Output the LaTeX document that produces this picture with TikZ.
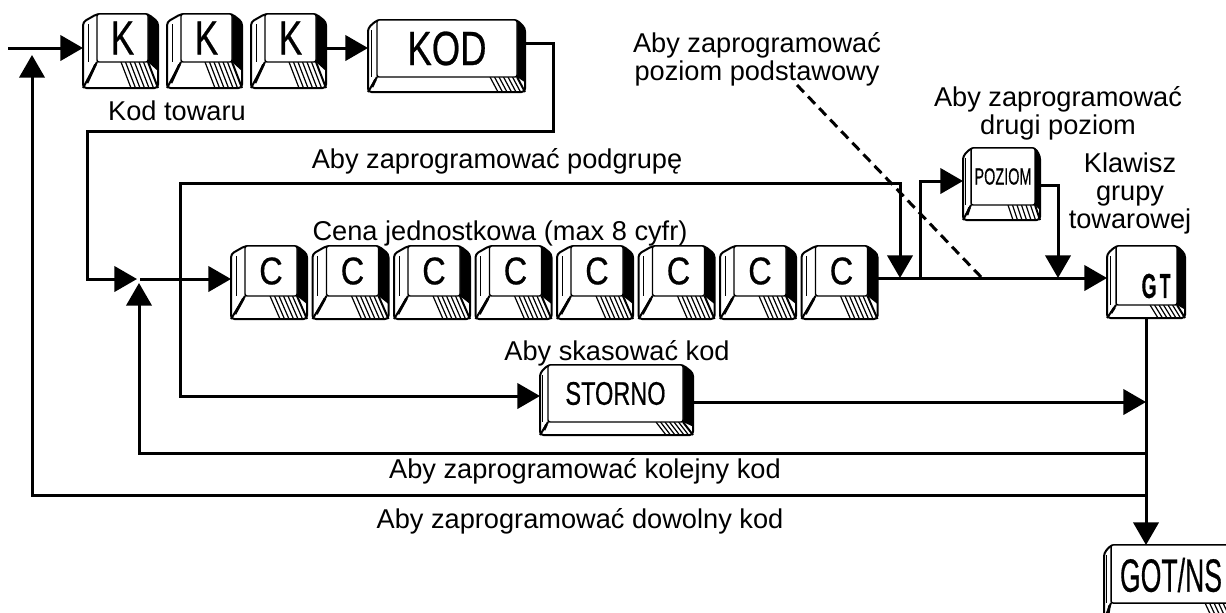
\documentclass[tikz,border=0pt]{standalone}
\usepackage{fontspec}
\setmainfont{Liberation Sans}
\newfontfamily\keyfont[FakeBold=0.6]{Liberation Sans}
\usepackage{graphicx}
\usetikzlibrary{arrows.meta,calc}

% #1 name, #2 L, #3 T, #4 R, #5 B, #6 face left, #7 face right, #8 face bottom
\newcommand\keycap[8]{%
  \pgfmathsetmacro\kcw{((#4)-(#2))*0.75}%
  \pgfmathsetmacro\kch{((#5)-(#3))*0.75}%
  \pgfmathsetmacro\kcrs{(#3)+8}%
  \pgfmathsetmacro\kcbl{(#8)+((#5)-(#8))*0.35}%
  \pgfmathsetmacro\kcin{(#2)+((#6)-(#2))*0.35}%
  \node[keybox,minimum width=\kcw pt,minimum height=\kch pt] (#1) at ({((#2)+(#4))/2},{((#3)+(#5))/2}) {};
  \draw[keyline,fill=white,rounded corners=2.5pt] (#6,#3) -- (#7,#3) -- (#4,\kcrs) -- (#4,#5) -- (#2,#5) -- (#2,\kcrs) -- cycle;
  \fill (#7,#3) -- (#4,\kcrs) -- (#4,\kcbl) -- (#7,#8) -- cycle;
  \draw[keyline] (#6,#8) -- (#2,#5) (#7,#8) -- (#4,#5);
  \foreach \i in {1,...,6}{\draw[hatch] ({(#7)-\i*4.5},#8) -- ({(#7)-\i*4.5+((#4)-(#7))},#5);}
  \draw[line width=0.6pt] (\kcin,{(#3)+10}) -- (\kcin,{(#8)});
  \draw[line width=2pt] ({(#6)-1.5},{(#8)+2.5}) -- ({(#2)+4},{(#5)-5});
  \draw[line width=1.1pt,fill=white,rounded corners=1.5pt] (#6,#3) rectangle (#7,#8);
  \coordinate (#1-f) at ({((#6)+(#7))/2},{((#3)+(#8))/2});
}
\newcommand\kl[3]{{\keyfont\fontsize{#1}{#1}\selectfont\scalebox{#2}[1]{#3}}}

\begin{document}
\begin{tikzpicture}[x=0.75pt,y=-0.75pt,
  wire/.style={line width=2.25pt},
  arr/.style={-{Triangle[length=17pt,width=19pt]}},
  keybox/.style={inner sep=0pt,outer sep=0pt,rectangle},
  keyline/.style={line width=1.5pt,line join=round},
  hatch/.style={line width=0.9pt},
  lab/.style={font=\fontsize{20.4}{24}\selectfont,inner sep=0pt,anchor=base},
  klab/.style={inner sep=0pt}
]
\useasboundingbox (0,0) rectangle (1226,612);
\clip (0,0) rectangle (1226,612);

% keys
\keycap{k1}{83}{14}{158}{88}{97}{148}{62}
\keycap{k2}{167}{14}{242}{88}{181}{232}{62}
\keycap{k3}{251}{14}{326}{88}{265}{316}{62}
\keycap{kod}{368}{20}{525}{92}{377}{517}{77}
\foreach \n in {1,...,8}{
  \pgfmathsetmacro\ckl{231+81.5*(\n-1)}
  \pgfmathsetmacro\ckr{\ckl+76}
  \pgfmathsetmacro\ckfl{\ckl+14}
  \pgfmathsetmacro\ckfr{\ckl+66}
  \keycap{c\n}{\ckl}{246}{\ckr}{319}{\ckfl}{\ckfr}{296}
  \node[klab] (c\n-t) at (c\n-f) {\kl{29}{0.84}{C}};
}
\keycap{storno}{540}{365}{693}{435}{548}{683}{422}
\keycap{poz}{963}{148}{1040}{220}{971}{1035}{205}
\keycap{gt}{1107}{246}{1185}{318}{1116}{1177}{305}
\keycap{got}{1104}{545}{1240}{620}{1111}{1232}{603}

\node[klab] (k1-t) at (k1-f) {\kl{36}{0.73}{K}};
\node[klab] (k2-t) at (k2-f) {\kl{36}{0.73}{K}};
\node[klab] (k3-t) at (k3-f) {\kl{36}{0.73}{K}};
\node[klab] (kod-t) at (kod-f) {\kl{36}{0.76}{KOD}};
\node[klab] (storno-t) at (storno-f) {\kl{24.5}{0.72}{STORNO}};
\node[klab] (poz-t) at (poz-f) {\kl{17.5}{0.62}{POZIOM}};
\node[klab] (gt-t) at (1156,286) {\bfseries\kl{26}{0.55}{G}\hspace{2.5pt}\kl{26}{0.5}{T}};
\node[klab] (got-t) at (1171,575) {\kl{35}{0.57}{GOT/NS}};

% connectors
\coordinate (in) at (8,48);
\draw[wire,arr] (in) -- (k1.west |- in);
\draw[wire,arr] (k3.east |- in) -- (kod.west |- in);
\coordinate (ka) at (553,43);
\coordinate (kb) at (553,131);
\coordinate (kc) at (87,131);
\coordinate (kd) at (87,279);
\coordinate (ja) at (137,279);
\draw[wire,arr] (kod.east |- ka) -- (ka) -- (kb) -- (kc) -- (kd) -- (ja);
\coordinate (jo) at (140,279);
\draw[wire,arr] (jo) -- (c1.west |- jo);

\coordinate (j2) at (180,279);
\coordinate (pgl) at (180,183);
\coordinate (pgr) at (900,183);
\coordinate (m1) at (900,278);
\draw[wire,arr] (j2) -- (pgl) -- (pgr) -- (m1);
\coordinate (sl) at (180,396);
\draw[wire,arr] (j2) -- (sl) -- (storno.west |- sl);

\draw[wire,arr] (c8.east |- m1) -- (gt.west |- m1);
\coordinate (m2) at (920,278);
\coordinate (pa) at (920,181);
\draw[wire,arr] (m2) -- (pa) -- (poz.west |- pa);
\coordinate (pb) at (1058,185);
\coordinate (m3) at (1058,278);
\draw[wire,arr] (poz.east |- pb) -- (pb) -- (m3);

\coordinate (d0) at (797,85);
\coordinate (d1) at (982,278);
\draw[wire,dash pattern=on 7.5pt off 4.5pt] (d0) -- (d1);

\coordinate (sr) at (1146,402);
\draw[wire,arr] (storno.east |- sr) -- (sr);
\draw[wire,arr] (gt.south) -- (gt.south |- got.north);

\coordinate (r1) at (1146,453);
\coordinate (r1b) at (139,453);
\coordinate (ju) at (139,283);
\draw[wire,arr] (r1) -- (r1b) -- (ju);
\coordinate (r2) at (1146,495);
\coordinate (r2b) at (32,495);
\coordinate (iu) at (32,55);
\draw[wire,arr] (r2) -- (r2b) -- (iu);

% texts
\node[lab] (t1) at (177,120) {Kod towaru};
\node[lab] (t2) at (497,168) {Aby zaprogramować podgrupę};
\node[lab] (t3) at (500,240) {Cena jednostkowa (max 8 cyfr)};
\node[lab] (t4a) at (757,52) {Aby zaprogramować};
\node[lab] (t4b) at (757,80) {poziom podstawowy};
\node[lab] (t5a) at (1058,106) {Aby zaprogramować};
\node[lab] (t5b) at (1058,134) {drugi poziom};
\node[lab] (t6a) at (1130,172) {Klawisz};
\node[lab] (t6b) at (1130,200) {grupy};
\node[lab] (t6c) at (1130,228) {towarowej};
\node[lab] (t7) at (617,360) {Aby skasować kod};
\node[lab] (t8) at (585,478) {Aby zaprogramować kolejny kod};
\node[lab] (t9) at (580,528) {Aby zaprogramować dowolny kod};
\end{tikzpicture}
\end{document}
